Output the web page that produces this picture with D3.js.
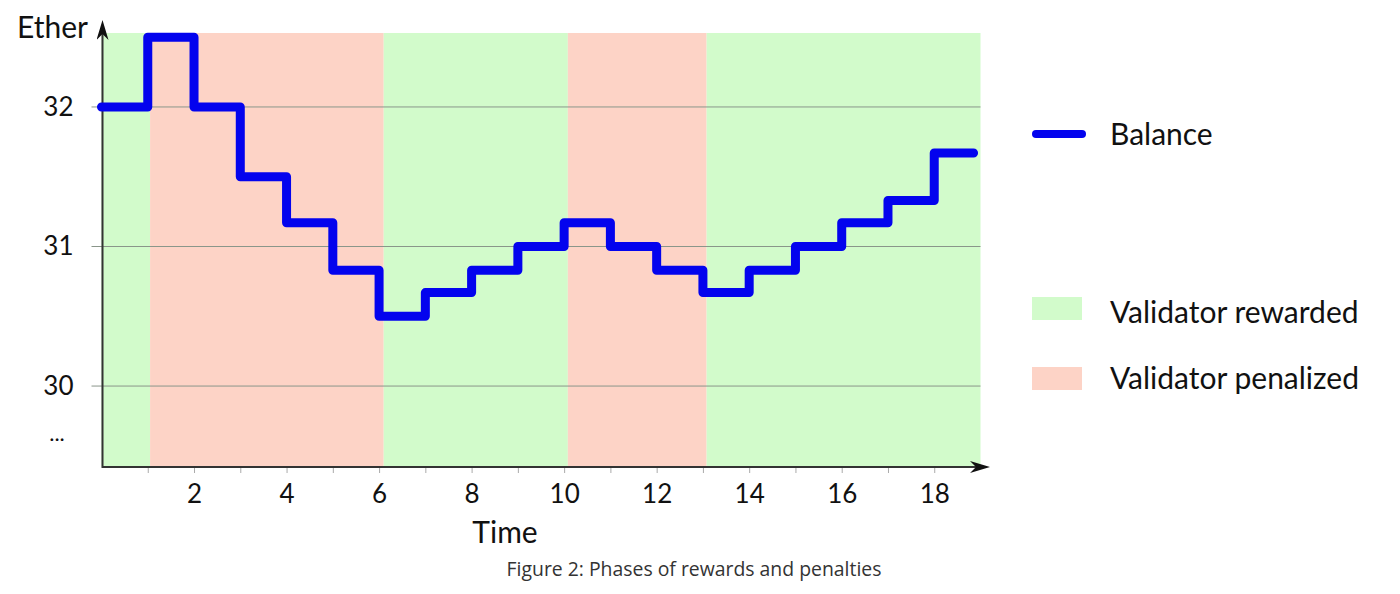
<!DOCTYPE html>
<html>
<head>
<meta charset="utf-8">
<script src="https://cdn.jsdelivr.net/npm/d3@7"></script>
<style>
  body { margin: 0; background: #fff; }
  text { font-family: Lato, "Open Sans", sans-serif; fill: #111; }
</style>
</head>
<body>
<script>
// datos de la grafica
var tiempos = [0, 1, 2, 3, 4, 5, 6, 7, 8, 9, 10, 11, 12, 13, 14, 15, 16, 17, 18];
var balance = [32, 32.5, 32, 31.5, 31.17, 30.83, 30.5, 30.67, 30.83, 31, 31.17, 31, 30.83, 30.67, 30.83, 31, 31.17, 31.33, 31.67];
var finLinea = 18.85;

var faseInicio = [0, 1.05, 6.1, 10.08, 13.08];
var faseFin = [1.05, 6.1, 10.08, 13.08, 19];
var faseTipo = ["rewarded", "penalized", "rewarded", "penalized", "rewarded"];

var xTicks = [1, 2, 3, 4, 5, 6, 7, 8, 9, 10, 11, 12, 13, 14, 15, 16, 17, 18];
var xEtiquetas = [2, 4, 6, 8, 10, 12, 14, 16, 18];
var yTicks = [30, 31, 32];

var leyenda = ["Balance", "Validator rewarded", "Validator penalized"];

var colores = { rewarded: "#d2fbcb", penalized: "#fdd3c6" };
var azul = "#0303ee";

var W = 1400, H = 594;
var svg = d3.select("body").append("svg").attr("width", W).attr("height", H);

var x = d3.scaleLinear().domain([0, 19]).range([101.5, 980.5]);
var y = d3.scaleLinear().domain([29.42, 32.53]).range([467, 33]);

// fondos de fases
svg.selectAll(".fase")
  .data(faseInicio)
  .enter().append("rect")
  .attr("x", function(d) { return x(d); })
  .attr("width", function(d, i) { return x(faseFin[i]) - x(d); })
  .attr("y", y(32.53))
  .attr("height", y(29.42) - y(32.53))
  .attr("fill", function(d, i) { return colores[faseTipo[i]]; });

// lineas guia
svg.selectAll(".grid")
  .data(yTicks)
  .enter().append("line")
  .attr("x1", x(0) - 10).attr("x2", x(19))
  .attr("y1", function(d) { return y(d); })
  .attr("y2", function(d) { return y(d); })
  .attr("stroke", "#8a968a").attr("stroke-width", 1);

// eje x
var xAxis = d3.axisBottom(x).tickValues(xTicks).tickSize(6)
  .tickFormat(function(d) { return xEtiquetas.indexOf(d) >= 0 ? d : ""; });
var gx = svg.append("g").attr("transform", "translate(0," + y(29.42) + ")").call(xAxis);
gx.select(".domain").remove();
gx.selectAll(".tick line").attr("stroke", "#aaa");
gx.selectAll(".tick text").attr("dy", "1.05em").attr("font-size", 26).attr("font-family", "Lato").attr("fill", "#111");

// eje y
var yAxis = d3.axisLeft(y).tickValues(yTicks).tickSize(0).tickPadding(28).tickFormat(d3.format("d"));
var gy = svg.append("g").attr("transform", "translate(" + x(0) + ",0)").call(yAxis);
gy.select(".domain").remove();
gy.selectAll(".tick text").attr("font-size", 26).attr("font-family", "Lato").attr("fill", "#111");

// lineas de los ejes con flechas
svg.append("defs").append("marker")
  .attr("id", "flecha").attr("viewBox", "0 0 20 12").attr("refX", 6).attr("refY", 6)
  .attr("markerWidth", 20).attr("markerHeight", 12).attr("markerUnits", "userSpaceOnUse")
  .attr("orient", "auto")
  .append("path").attr("d", "M0,0 L20,6 L0,12 L6,6 Z").attr("fill", "#111");

svg.append("line")
  .attr("x1", x(0) + 1).attr("x2", 976)
  .attr("y1", y(29.42)).attr("y2", y(29.42))
  .attr("stroke", "#333").attr("stroke-width", 2)
  .attr("marker-end", "url(#flecha)");
svg.append("line")
  .attr("x1", x(0) + 1).attr("x2", x(0) + 1)
  .attr("y1", y(29.42) + 1).attr("y2", 34)
  .attr("stroke", "#333").attr("stroke-width", 2)
  .attr("marker-end", "url(#flecha)");

// linea del balance
var puntos = tiempos.map(function(t, i) { return [t, balance[i]]; });
puntos.push([finLinea, balance[balance.length - 1]]);
var linea = d3.line()
  .x(function(d) { return x(d[0]); })
  .y(function(d) { return y(d[1]); })
  .curve(d3.curveStepAfter);
svg.append("path").datum(puntos)
  .attr("d", linea)
  .attr("fill", "none").attr("stroke", azul).attr("stroke-width", 9)
  .attr("stroke-linejoin", "round").attr("stroke-linecap", "round");

// textos
svg.append("text").attr("x", 17).attr("y", 38).style("font-size", "30px").text("Ether");
svg.append("text").attr("x", 57).attr("y", 441).attr("text-anchor", "middle").style("font-size", "22px").text("...");
svg.append("text").attr("x", 505).attr("y", 543).attr("text-anchor", "middle").style("font-size", "30px").text("Time");
svg.append("text").attr("x", 694).attr("y", 576).attr("text-anchor", "middle")
  .style("font-family", "'Open Sans', sans-serif").style("font-size", "19.4px").style("fill", "#333")
  .text("Figure 2: Phases of rewards and penalties");

// leyenda
var leg = svg.append("g");
leg.append("line").attr("x1", 1036).attr("x2", 1082).attr("y1", 134).attr("y2", 134)
  .attr("stroke", azul).attr("stroke-width", 8).attr("stroke-linecap", "round");
leg.append("rect").attr("x", 1032).attr("y", 297).attr("width", 50).attr("height", 23).attr("fill", colores.rewarded);
leg.append("rect").attr("x", 1032).attr("y", 367).attr("width", 50).attr("height", 23).attr("fill", colores.penalized);
var legY = [134, 312, 378];
leg.selectAll(".legtxt").data(leyenda).enter().append("text")
  .attr("x", 1110).attr("y", function(d, i) { return legY[i]; })
  .attr("dy", "0.35em").style("font-size", "30px")
  .text(function(d) { return d; });
</script>
</body>
</html>
